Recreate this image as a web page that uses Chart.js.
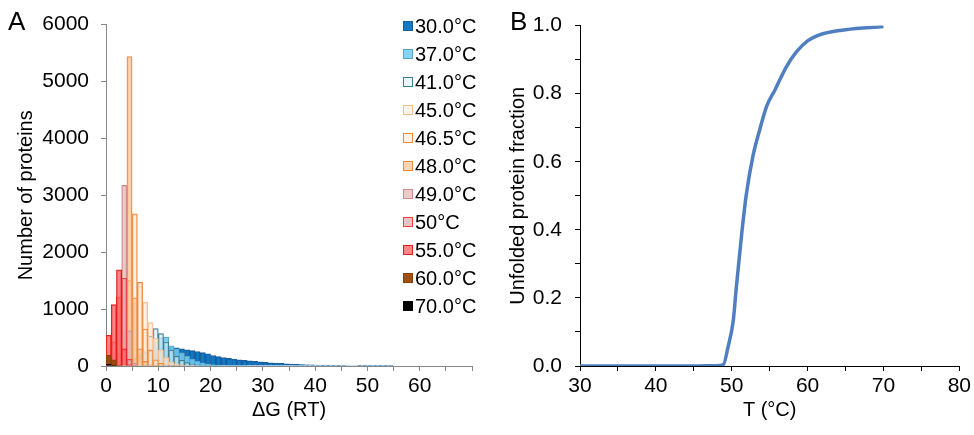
<!DOCTYPE html>
<html>
<head>
<meta charset="utf-8">
<script src="https://cdn.jsdelivr.net/npm/chart.js@4.4.1/dist/chart.umd.min.js"></script>
<style>
    body { margin: 0; background: #fff; font-family: 'Liberation Sans', Arial, sans-serif; color: #000; }
    #page { position: relative; width: 974px; height: 435px; overflow: hidden; }
    .panel { position: absolute; top: 0; width: 487px; height: 435px; }
    #boxA { left: 0; }
    #boxB { left: 487px; }
    .lettre { position: absolute; top: 6px; font-size: 26px; }
    #legende { position: absolute; left: 403px; top: 0; }
    .ligne { position: absolute; left: 0; height: 24px; line-height: 24px; font-size: 20px; white-space: nowrap; }
    .carre { position: absolute; left: 0; top: 7px; width: 8px; height: 8px; border: 1px solid; }
    .ligne span { position: absolute; left: 12px; }
</style>
</head>
<body>
<div id="page">
    <div class="panel" id="boxA"><canvas id="histo"></canvas></div>
    <div class="panel" id="boxB"><canvas id="courbe"></canvas></div>
    <div class="lettre" style="left:8px">A</div>
    <div class="lettre" style="left:510px">B</div>
    <div id="legende"></div>
</div>
<script>
// Panel A : histogrammes de ΔG (une case = 1 RT, de 0 à 70)
const temperatures = ["30.0°C", "37.0°C", "41.0°C", "45.0°C", "46.5°C", "48.0°C", "49.0°C", "50°C", "55.0°C", "60.0°C", "70.0°C"];

const n30 = [2, 10, 30, 60, 100, 150, 200, 250, 290, 320, 335, 340, 330, 320, 300, 285, 270, 255, 235, 215,
    185, 165, 150, 135, 122, 110, 100, 90, 80, 72, 64, 57, 50, 45, 40, 34, 30, 26, 22, 19,
    17, 15, 14, 12, 11, 10, 9, 8, 7, 6, 5, 4, 3, 2, 1];
const n37 = [0, 0, 2, 5, 10, 20, 40, 100, 250, 420, 500, 510, 354, 300, 230, 170, 120, 80, 55, 35, 22, 14, 8, 5, 3, 2, 1];
const n41 = [0, 0, 0, 2, 8, 30, 90, 250, 520, 657, 570, 420, 280, 170, 100, 60, 35, 20, 10, 5, 2, 1];
const n45 = [0, 0, 5, 60, 400, 1100, 1400, 1122, 762, 480, 280, 150, 75, 35, 15, 6, 2];
const n465 = [0, 0, 10, 120, 1500, 2674, 1471, 650, 280, 110, 45, 18, 7, 3, 1];
const n48 = [0, 2, 40, 600, 5440, 1200, 300, 80, 20, 5, 1];
const n49 = [5, 60, 1210, 3175, 616, 50, 8, 2];
const n50 = [150, 424, 1210, 1547, 120, 10];
const n55 = [540, 1080, 1690, 300, 20];
const n60 = [190, 110, 15];
const n70 = [30, 5];
const series = [n30, n37, n41, n45, n465, n48, n49, n50, n55, n60, n70];

const remplissages = ["rgba(0,108,190,0.92)", "rgba(110,205,245,0.85)", "rgba(220,238,245,0.6)", "rgba(253,231,213,0.55)",
    "rgba(253,231,213,0.55)", "rgba(251,190,140,0.65)", "rgba(230,180,180,0.7)", "rgba(222,155,158,0.6)",
    "rgba(255,95,95,0.75)", "rgba(152,72,10,0.95)", "rgba(0,0,0,1)"];
const bordures = ["#1f5d96", "#5aa3c6", "#3a7f90", "#f8bf8e", "#f0893a", "#ea8a40", "#cf8a8a", "#f03c3c",
    "#e01e1e", "#8a3f05", "#000000"];

// Panel B : fraction de protéines dépliées
const tempB = [30, 35, 40, 45, 48, 48.9, 49.5, 50.2, 50.6, 51.3, 51.9, 52.8, 53.7, 54.6, 55.7, 57.2, 58.5, 60, 62, 65, 70];
const fracB = [0, 0, 0, 0, 0.001, 0.004, 0.055, 0.133, 0.23, 0.385, 0.5, 0.617, 0.695, 0.763, 0.811, 0.879, 0.922, 0.955, 0.976, 0.988, 0.997];

Chart.defaults.font.family = "'Liberation Sans', Arial, sans-serif";
Chart.defaults.font.size = 20;
Chart.defaults.color = '#000';

// Légende HTML posée dans la zone du graphique
let legende = document.getElementById("legende");
for (let i = 0; i < temperatures.length; i++) {
    let ligne = document.createElement("div");
    ligne.className = "ligne";
    ligne.style.top = (26 + i * 28 - 12) + "px";
    ligne.innerHTML = '<div class="carre" style="background:' + remplissages[i] + ';border-color:' + bordures[i] + '"></div><span>' + temperatures[i] + '</span>';
    legende.appendChild(ligne);
}

let jeux = [];
for (let i = 0; i < series.length; i++) {
    jeux.push({
        label: temperatures[i],
        data: series[i].map(function (v, k) { return { x: k + 0.5, y: v }; }),
        backgroundColor: remplissages[i],
        borderColor: bordures[i],
        borderWidth: 1,
        grouped: false,
        barPercentage: 1,
        categoryPercentage: 1,
        order: series.length - i
    });
}

let policeTicks = { size: 21 };

new Chart(document.getElementById("histo"), {
    type: 'bar',
    data: { datasets: jeux },
    options: {
        animation: false, responsive: true, maintainAspectRatio: false,
        layout: { padding: { top: 22, right: 15, left: 0, bottom: 0 } },
        plugins: { legend: { display: false }, tooltip: { enabled: false } },
        scales: {
            x: {
                type: 'linear', min: 0, max: 70, offset: false,
                grid: { offset: false, drawOnChartArea: false, tickLength: 5, tickColor: '#868686' },
                border: { color: '#868686', width: 1 },
                ticks: { stepSize: 5, autoSkip: false, maxRotation: 0, padding: 3, font: policeTicks,
                    callback: function (v) { return (v % 10 === 0 && v < 70) ? String(v) : ''; } },
                title: { display: true, text: 'ΔG (RT)', padding: { top: 0, bottom: 13 } },
                afterFit: function (s) { s.height = 69; }
            },
            y: {
                min: 0, max: 6000,
                grid: { drawOnChartArea: false, tickLength: 5, tickColor: '#868686' },
                border: { color: '#868686', width: 1 },
                ticks: { stepSize: 1000, padding: 12, font: policeTicks,
                    callback: function (v) { return String(v); } },
                title: { display: true, text: 'Number of proteins', padding: { top: 14, bottom: 0 } },
                afterFit: function (s) { s.width = 106; }
            }
        }
    }
});

new Chart(document.getElementById("courbe"), {
    type: 'line',
    data: {
        datasets: [{
            data: tempB.map(function (t, k) { return { x: t, y: fracB[k] }; }),
            borderColor: '#4f7fc0', borderWidth: 3.5, pointRadius: 0,
            cubicInterpolationMode: 'monotone', fill: false
        }]
    },
    options: {
        animation: false, responsive: true, maintainAspectRatio: false,
        layout: { padding: { top: 22, right: 14, left: 0, bottom: 0 } },
        plugins: { legend: { display: false }, tooltip: { enabled: false } },
        scales: {
            x: {
                type: 'linear', min: 30, max: 80,
                grid: { drawOnChartArea: false, tickLength: 5, tickColor: '#000' },
                border: { color: '#000', width: 1 },
                ticks: { stepSize: 5, autoSkip: false, maxRotation: 0, padding: 3, font: policeTicks,
                    callback: function (v) { return v % 10 === 0 ? String(v) : ''; } },
                title: { display: true, text: 'T (°C)', padding: { top: 0, bottom: 13 } },
                afterFit: function (s) { s.height = 69; }
            },
            y: {
                min: 0, max: 1,
                grid: { drawOnChartArea: false, tickLength: 5, tickColor: '#000' },
                border: { color: '#000', width: 1 },
                ticks: { stepSize: 0.1, autoSkip: false, padding: 13, font: policeTicks,
                    callback: function (v) { return Math.round(v * 10) % 2 === 0 ? v.toFixed(1) : ''; } },
                title: { display: true, text: 'Unfolded protein fraction', padding: { top: 19, bottom: 0 } },
                afterFit: function (s) { s.width = 93; }
            }
        }
    }
});
</script>
</body>
</html>
